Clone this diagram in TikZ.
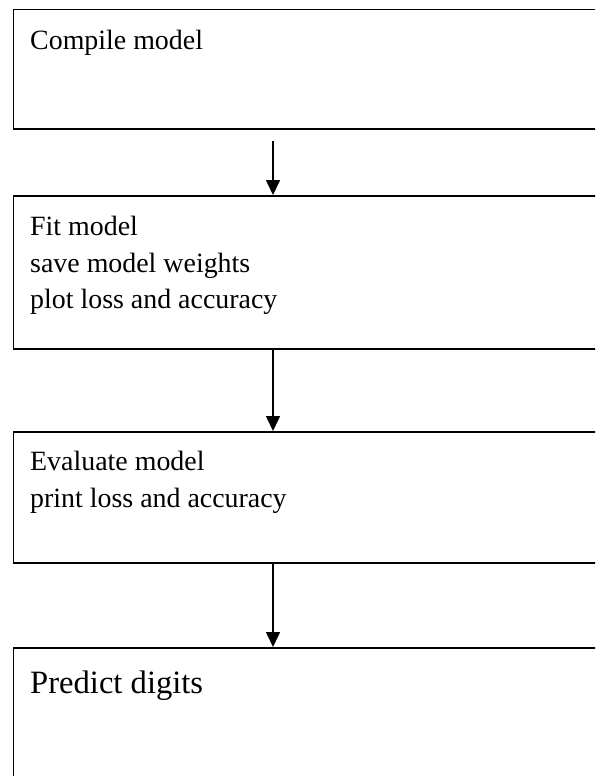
\documentclass[tikz,border=0pt]{standalone}
\usepackage{fontspec}
\setmainfont{Liberation Serif}
\usetikzlibrary{arrows.meta}
\begin{document}
\begin{tikzpicture}[x=1pt,y=1pt,
  stepbox/.style={draw=black, line width=1.5pt, rectangle, inner sep=0pt, minimum width=610pt, anchor=north west},
  txt/.style={anchor=base west, inner sep=0pt, font=\fontsize{27.9}{36.8}\selectfont},
  bigtxt/.style={anchor=base west, inner sep=0pt, font=\fontsize{32.6}{40}\selectfont},
  arr/.style={line width=1.5pt, -{Triangle[width=14pt,length=15pt]}}]
\useasboundingbox (0,0) rectangle (595,-776);
\clip (0,0) rectangle (595,-776);
\fill[white] (0,0) rectangle (595,-776);
\node[stepbox, minimum height=119pt] (b1) at (12.5,-9) {};
\node[stepbox, minimum height=153pt] (b2) at (12.5,-195) {};
\node[stepbox, minimum height=131pt] (b3) at (12.5,-431) {};
\node[stepbox, minimum height=160pt] (b4) at (12.5,-647) {};
\node[txt] (t1) at (30,-50) {Compile model};
\node[txt] (t2a) at (30,-235) {Fit model};
\node[txt] (t2b) at (30,-272) {save model weights};
\node[txt] (t2c) at (30,-308.5) {plot loss and accuracy};
\node[txt] (t3a) at (30,-470) {Evaluate model};
\node[txt] (t3b) at (30,-507) {print loss and accuracy};
\node[bigtxt] (t4) at (30,-693) {Predict digits};
\coordinate (ax) at (273,0);
\coordinate (a1) at (273,-141);
\draw[arr] (a1) -- (b2.north -| ax);
\draw[arr] (b2.south -| ax) -- (b3.north -| ax);
\draw[arr] (b3.south -| ax) -- (b4.north -| ax);
\end{tikzpicture}
\end{document}
